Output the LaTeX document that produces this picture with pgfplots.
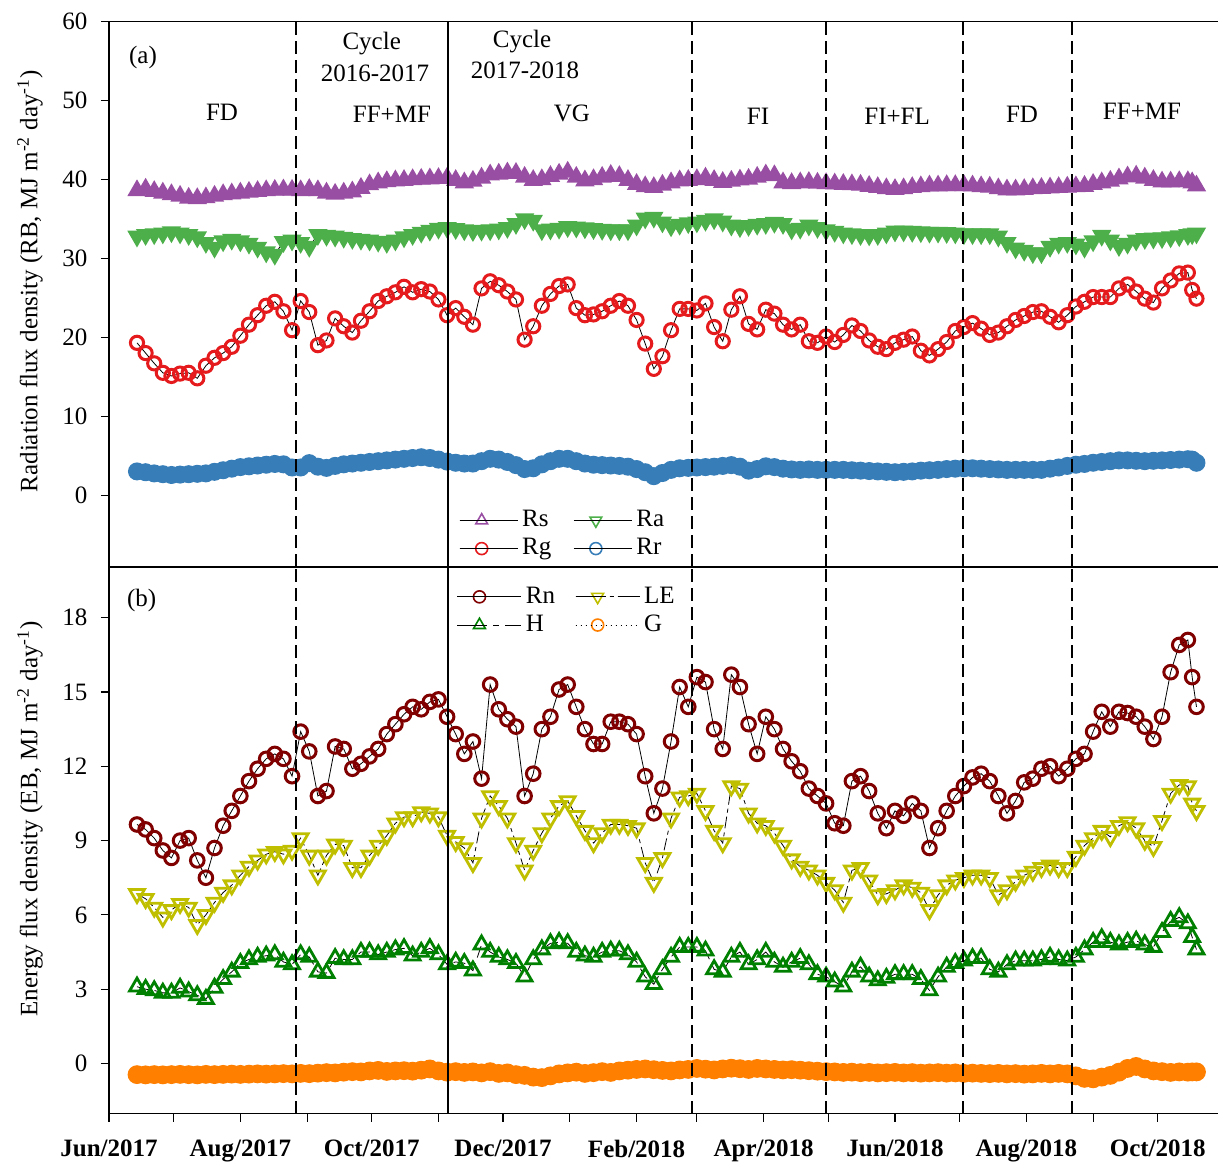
\documentclass[border=0pt]{standalone}
\usepackage{fontspec}
\setmainfont{Liberation Serif}
\usepackage{pgfplots}
\usepackage{pgfplotstable}
\pgfplotsset{compat=1.18}
\definecolor{cRs}{RGB}{152,78,163}
\definecolor{cRa}{RGB}{77,175,74}
\definecolor{cRg}{RGB}{228,26,28}
\definecolor{cRr}{RGB}{55,126,184}
\definecolor{cRn}{RGB}{128,0,0}
\definecolor{cLE}{RGB}{191,191,0}
\definecolor{cH}{RGB}{0,128,0}
\definecolor{cG}{RGB}{255,127,0}
\tikzset{vline/.style={line width=0.8pt, dash pattern=on 6.5pt off 3pt}}
\pgfplotstableread{
d Rs Ra Rg Rr Rn LE H G
13 38.6 32.8 19.3 3.0 9.65 6.85 3.1 -0.45
17 38.8 33.0 18.0 2.9 9.45 6.65 3.0 -0.46
21 38.5 33.1 16.7 2.75 9.1 6.3 2.95 -0.45
25 38.3 33.2 15.5 2.65 8.6 5.9 2.85 -0.46
29 38.1 33.35 15.1 2.55 8.3 6.2 2.85 -0.45
33 37.9 33.2 15.4 2.6 9.0 6.45 3.05 -0.44
37 37.65 33.0 15.5 2.65 9.1 6.3 2.9 -0.45
41 37.6 32.7 14.8 2.7 8.2 5.6 2.75 -0.46
45 37.7 32.0 16.4 2.75 7.5 6.0 2.6 -0.44
49 37.9 31.4 17.4 2.95 8.7 6.5 3.05 -0.45
53 38.1 32.2 18.0 3.15 9.6 6.9 3.4 -0.44
57 38.2 32.4 18.8 3.35 10.2 7.2 3.7 -0.43
61 38.3 32.2 20.2 3.55 10.8 7.6 4.05 -0.44
65 38.4 31.9 21.6 3.65 11.4 7.95 4.2 -0.43
69 38.5 31.4 22.8 3.75 11.9 8.2 4.3 -0.42
73 38.6 30.8 24.0 3.85 12.3 8.45 4.35 -0.43
77 38.65 30.5 24.5 3.95 12.5 8.55 4.4 -0.42
81 38.7 32.1 23.3 3.9 12.3 8.45 4.1 -0.41
85 38.65 32.3 20.9 3.5 11.6 8.6 4.0 -0.42
89 38.6 32.0 24.6 3.5 13.4 9.1 4.4 -0.40
93 38.75 31.5 23.2 4.05 12.6 8.4 4.3 -0.41
97 38.6 33.0 19.0 3.6 10.8 7.6 3.7 -0.39
101 38.3 32.9 19.6 3.45 11.0 8.4 3.65 -0.37
105 38.15 32.8 22.4 3.7 12.8 8.85 4.25 -0.38
109 38.3 32.65 21.4 3.9 12.7 8.8 4.2 -0.35
113 38.45 32.5 20.6 4.0 11.9 7.9 4.2 -0.33
117 38.9 32.4 22.1 4.1 12.1 7.9 4.5 -0.34
121 39.35 32.3 23.3 4.2 12.4 8.4 4.5 -0.30
125 39.6 32.15 24.6 4.3 12.7 8.8 4.4 -0.28
129 39.75 32.0 25.2 4.4 13.3 9.2 4.5 -0.32
133 39.85 32.3 25.7 4.5 13.7 9.7 4.6 -0.30
137 39.9 32.7 26.4 4.6 14.1 9.95 4.65 -0.29
141 40.0 33.0 25.7 4.7 14.4 9.95 4.35 -0.31
145 40.05 33.3 26.1 4.8 14.3 10.15 4.5 -0.27
149 40.1 33.55 25.8 4.7 14.6 10.1 4.65 -0.22
153 40.15 33.8 24.8 4.5 14.7 9.95 4.4 -0.30
157 40.2 33.9 22.8 4.25 14.0 9.2 4.0 -0.35
161 39.9 33.75 23.7 4.1 13.3 8.95 4.1 -0.33
165 39.6 33.6 22.6 4.0 12.5 8.7 4.05 -0.36
169 39.8 33.5 21.6 4.0 13.0 8.1 3.75 -0.34
173 40.2 33.55 26.2 4.3 11.5 9.9 4.8 -0.38
177 40.6 33.6 27.1 4.6 15.3 10.8 4.5 -0.33
181 40.7 33.7 26.6 4.5 14.3 10.4 4.3 -0.40
185 40.85 33.9 25.8 4.2 13.9 9.9 4.2 -0.38
189 40.8 34.4 24.8 3.8 13.6 8.9 4.05 -0.45
193 40.3 35.0 19.7 3.3 10.8 7.8 3.5 -0.48
197 39.9 34.8 21.4 3.4 11.7 8.6 4.2 -0.55
201 40.0 33.6 24.0 3.9 13.5 9.3 4.6 -0.57
205 40.4 33.7 25.5 4.3 14.0 9.9 4.85 -0.50
209 40.7 33.8 26.5 4.6 15.1 10.4 4.9 -0.42
213 40.95 34.0 26.7 4.6 15.3 10.6 4.85 -0.38
217 40.3 33.95 23.7 4.3 14.4 10.0 4.5 -0.35
221 39.85 33.85 22.8 4.0 13.5 9.4 4.35 -0.40
225 40.0 33.75 22.9 3.85 12.9 8.9 4.3 -0.37
229 40.3 33.65 23.3 3.8 12.9 9.3 4.5 -0.33
233 40.55 33.6 24.0 3.75 13.8 9.65 4.55 -0.36
237 40.4 33.6 24.6 3.7 13.8 9.65 4.55 -0.30
241 39.9 33.6 24.0 3.6 13.7 9.6 4.4 -0.27
245 39.4 34.2 22.2 3.3 13.3 9.5 4.1 -0.24
249 39.1 35.1 19.2 2.9 11.6 8.1 3.5 -0.22
253 39.0 35.2 16.0 2.4 10.1 7.3 3.2 -0.25
257 39.3 34.6 17.6 2.8 11.1 8.3 3.8 -0.28
261 39.6 34.1 20.9 3.2 13.0 9.9 4.3 -0.30
265 39.85 34.3 23.6 3.4 15.2 10.75 4.7 -0.26
269 39.9 34.5 23.6 3.45 14.4 10.8 4.7 -0.24
273 40.0 34.6 23.4 3.5 15.6 10.9 4.7 -0.20
277 40.2 34.8 24.3 3.55 15.4 10.2 4.55 -0.23
281 39.9 35.0 21.3 3.6 13.5 9.4 3.8 -0.26
285 39.65 34.7 19.5 3.7 12.7 8.9 3.7 -0.22
289 39.8 34.2 23.5 3.8 15.7 11.2 4.3 -0.19
293 39.95 34.0 25.2 3.6 15.2 11.1 4.5 -0.21
297 40.05 34.15 21.7 3.1 13.7 10.1 4.0 -0.24
301 40.3 34.3 21.0 3.3 12.5 9.7 4.2 -0.20
305 40.6 34.4 23.5 3.65 14.0 9.6 4.5 -0.22
309 40.5 34.55 23.0 3.55 13.5 9.3 4.1 -0.24
313 39.6 34.4 21.6 3.35 12.7 8.8 3.9 -0.26
317 39.5 33.7 21.0 3.25 12.2 8.25 4.1 -0.25
321 39.6 33.8 21.6 3.2 11.8 7.95 4.25 -0.27
325 39.65 34.2 19.5 3.25 11.1 7.8 4.0 -0.29
329 39.55 33.9 19.3 3.2 10.8 7.6 3.6 -0.31
333 39.5 33.6 20.1 3.2 10.5 7.3 3.5 -0.33
337 39.45 33.4 19.4 3.2 9.7 7.0 3.3 -0.34
341 39.4 33.2 20.3 3.2 9.6 6.5 3.1 -0.36
345 39.35 33.1 21.5 3.15 11.4 7.8 3.7 -0.35
349 39.3 33.0 20.8 3.1 11.6 7.9 3.9 -0.37
353 39.15 32.95 19.6 3.05 11.0 7.4 3.5 -0.36
357 39.0 33.0 18.8 3.0 10.1 6.8 3.35 -0.38
361 38.85 33.2 18.5 2.95 9.5 6.85 3.45 -0.37
365 38.75 33.45 19.3 2.9 10.2 7.0 3.6 -0.36
369 38.85 33.45 19.7 2.95 10.0 7.2 3.6 -0.38
373 39.0 33.4 20.1 3.0 10.5 7.1 3.6 -0.37
377 39.1 33.35 18.3 3.1 10.2 6.9 3.4 -0.39
381 39.2 33.3 17.7 3.15 8.7 6.2 2.95 -0.38
385 39.2 33.3 18.5 3.2 9.5 6.8 3.5 -0.37
389 39.25 33.25 19.4 3.3 10.2 7.2 3.9 -0.39
393 39.25 33.2 20.8 3.35 10.8 7.4 4.05 -0.38
397 39.25 33.1 21.3 3.4 11.2 7.5 4.15 -0.40
401 39.2 33.1 21.8 3.4 11.55 7.6 4.25 -0.39
405 39.1 33.1 21.1 3.35 11.7 7.6 4.25 -0.40
409 39.05 33.1 20.3 3.3 11.4 7.5 3.8 -0.41
413 38.85 32.8 20.6 3.25 10.8 6.8 3.7 -0.40
417 38.7 32.0 21.4 3.2 10.1 7.0 4.0 -0.42
421 38.7 31.3 22.2 3.2 10.6 7.35 4.15 -0.41
425 38.75 31.0 22.7 3.2 11.35 7.6 4.15 -0.43
429 38.85 30.7 23.2 3.2 11.5 7.75 4.15 -0.42
433 38.9 30.7 23.3 3.2 11.9 7.9 4.2 -0.40
437 38.95 31.5 22.6 3.35 12.0 8.0 4.3 -0.42
441 39.0 31.9 21.9 3.5 11.6 7.9 4.2 -0.40
445 39.05 32.0 22.8 3.7 11.9 7.9 4.15 -0.42
449 39.1 31.8 23.9 3.85 12.3 8.35 4.3 -0.50
453 39.15 31.4 24.5 3.95 12.5 8.8 4.6 -0.60
457 39.4 32.2 25.1 4.1 13.4 9.1 4.9 -0.62
461 39.6 32.9 25.1 4.2 14.2 9.4 5.05 -0.55
465 39.8 32.3 25.1 4.3 13.6 9.15 4.9 -0.48
469 40.1 31.6 26.2 4.4 14.2 9.6 4.8 -0.35
473 40.35 31.9 26.7 4.4 14.15 9.75 4.9 -0.20
477 40.45 32.3 25.8 4.35 14.0 9.5 4.95 -0.12
481 40.2 32.5 24.9 4.3 13.6 9.0 4.8 -0.22
485 39.9 32.55 24.4 4.35 13.1 8.75 4.7 -0.30
489 39.7 32.6 26.2 4.4 14.0 9.8 5.3 -0.33
493 39.7 32.7 27.2 4.45 15.8 10.9 5.75 -0.36
497 39.75 32.85 28.1 4.5 16.9 11.25 5.9 -0.34
501 39.75 33.0 28.2 4.55 17.1 11.2 5.65 -0.35
503 39.6 33.1 26.0 4.5 15.6 10.5 5.1 -0.34
505 39.2 33.2 24.9 4.1 14.4 10.2 4.6 -0.34
}\datatab
\begin{document}
\fontsize{12.5}{15}\selectfont
\begin{tikzpicture}
\pgfplotsset{
  common/.style={
    scale only axis, width=554.5pt, xmin=0, xmax=515,
    axis line style={draw=none},
    clip mode=individual,
    tick align=outside, ytick pos=left, xtick pos=bottom,
    major tick length=4pt,
    tick style={black, line width=0.6pt},
    /pgf/number format/assume math mode=true,
    tick label style={font=\fontsize{12.5}{15}\selectfont},
    yticklabel style={xshift=-2.5pt},
    legend cell align=left,
    legend columns=2,
  },
}
% ---------- panel (a) ----------
\begin{axis}[common, name=top, height=272.6pt, ymin=-9.1, ymax=60,
  ytick={0,10,...,60}, xtick=\empty,
  ylabel={Radiation flux density (RB, MJ m\textsuperscript{-2} day\textsuperscript{-1})},
  ylabel style={at={(axis description cs:-0.0712,0.524)}, anchor=center},
  legend image code/.code={\draw[mark repeat=2,mark phase=2,#1] plot coordinates {(0pt,0pt)(11pt,0pt)(22pt,0pt)}; \path (0pt,0pt) -- (29pt,0pt);},
  legend style={at={(0.31,0.119)}, anchor=north west, draw=none, fill=none,
    font=\fontsize{12.5}{15}\selectfont,
    /tikz/every even column/.append style={column sep=9pt}},
]
\addplot[forget plot, black, line width=0.4pt, mark=triangle*,
  mark options={solid, mark size=4.8pt, draw=cRs, fill=cRs, line width=0.8pt}] table[x=d,y=Rs]{\datatab};
\addplot[forget plot, black, line width=0.4pt, mark=triangle*,
  mark options={solid, mark size=4.8pt, draw=cRa, fill=cRa, line width=0.8pt, rotate=180}] table[x=d,y=Ra]{\datatab};
\addplot[forget plot, black, line width=0.4pt, mark=o,
  mark options={solid, mark size=3.3pt, draw=cRg, line width=1.5pt}] table[x=d,y=Rg]{\datatab};
\addplot[forget plot, black, line width=0.4pt, mark=*,
  mark options={solid, mark size=4.2pt, draw=cRr, fill=cRr, line width=0.6pt}] table[x=d,y=Rr]{\datatab};
\addlegendimage{black, line width=0.5pt, mark=triangle, mark options={solid, mark size=3.4pt, draw=cRs, line width=0.8pt}}
\addlegendentry{Rs}
\addlegendimage{black, line width=0.5pt, mark=triangle, mark options={solid, mark size=3.4pt, draw=cRa, line width=0.8pt, rotate=180}}
\addlegendentry{Ra}
\addlegendimage{black, line width=0.5pt, mark=o, mark options={solid, mark size=3pt, draw=cRg, line width=0.8pt}}
\addlegendentry{Rg}
\addlegendimage{black, line width=0.5pt, mark=o, mark options={solid, mark size=3pt, draw=cRr, line width=0.8pt}}
\addlegendentry{Rr}
\draw[vline] (axis cs:86.7,-9.1) -- (axis cs:86.7,60);
\draw[line width=0.8pt] (axis cs:157.4,-9.1) -- (axis cs:157.4,60);
\draw[vline] (axis cs:270.8,-9.1) -- (axis cs:270.8,60);
\draw[vline] (axis cs:332.9,-9.1) -- (axis cs:332.9,60);
\draw[vline] (axis cs:396.7,-9.1) -- (axis cs:396.7,60);
\draw[vline] (axis cs:447.2,-9.1) -- (axis cs:447.2,60);
\draw[line width=0.7pt] (rel axis cs:1,1) -- (rel axis cs:0,1) -- (rel axis cs:0,0) -- (rel axis cs:1,0);
\node at (axis cs:15.8,55.5) {(a)};
\node at (axis cs:52.5,48.5) {FD};
\node at (axis cs:122,57.2) {Cycle};
\node at (axis cs:123.5,53.5) {2016-2017};
\node at (axis cs:131.4,48.2) {FF+MF};
\node at (axis cs:191.8,57.5) {Cycle};
\node at (axis cs:193.2,53.9) {2017-2018};
\node at (axis cs:215,48.4) {VG};
\node at (axis cs:301.4,48.0) {FI};
\node at (axis cs:366,48.0) {FI+FL};
\node at (axis cs:424,48.3) {FD};
\node at (axis cs:479.7,48.7) {FF+MF};
\end{axis}
% ---------- panel (b) ----------
\begin{axis}[common, name=bot, at={(top.south west)}, anchor=north west,
  height=273.3pt, ymin=-2.02, ymax=20.05,
  ytick={0,3,...,18},
  xtick={0,30,61,92,122,153,183,214,245,273,304,334,365,395,426,457,487},
  xticklabels={Jun/2017,,Aug/2017,,Oct/2017,,Dec/2017,,Feb/2018,,Apr/2018,,Jun/2018,,Aug/2018,,Oct/2018},
  xticklabel style={font=\bfseries\fontsize{12.5}{15}\selectfont, yshift=-5pt},
  ylabel={Energy flux density (EB, MJ m\textsuperscript{-2} day\textsuperscript{-1})},
  ylabel style={at={(axis description cs:-0.0712,0.539)}, anchor=center},
  legend image code/.code={\draw[mark repeat=2,mark phase=2,#1] plot coordinates {(0pt,0pt)(11pt,0pt)(22pt,0pt)}; \path (0pt,0pt) -- (32pt,0pt);},
  legend style={at={(0.308,0.979)}, anchor=north west, draw=none, fill=none,
    font=\fontsize{12.5}{15}\selectfont,
    /tikz/every even column/.append style={column sep=8pt}},
]
\addplot[forget plot, black, line width=0.4pt, mark=*,
  mark options={solid, mark size=4.4pt, draw=cG, fill=cG, line width=0.6pt}] table[x=d,y=G]{\datatab};
\addplot[forget plot, black, line width=0.4pt, dash pattern=on 6pt off 3pt, mark=triangle,
  mark options={solid, mark size=4.3pt, draw=cH, line width=1.4pt}] table[x=d,y=H]{\datatab};
\addplot[forget plot, black, line width=0.4pt, dash pattern=on 6pt off 2pt on 2pt off 2pt, mark=triangle,
  mark options={solid, mark size=4.3pt, draw=cLE, line width=1.4pt, rotate=180}] table[x=d,y=LE]{\datatab};
\addplot[forget plot, black, line width=0.4pt, mark=o,
  mark options={solid, mark size=3.4pt, draw=cRn, line width=1.5pt}] table[x=d,y=Rn]{\datatab};
\addlegendimage{black, line width=0.5pt, mark=o, mark options={solid, mark size=3pt, draw=cRn, line width=0.8pt}}
\addlegendentry{Rn}
\addlegendimage{black, line width=0.5pt, dash pattern=on 15pt off 2pt on 2pt off 2pt, mark=triangle, mark options={solid, mark size=3.4pt, draw=cLE, line width=0.8pt, rotate=180}}
\addlegendentry{LE}
\addlegendimage{black, line width=0.5pt, dash pattern=on 15pt off 3pt on 3pt off 3pt, mark=triangle, mark options={solid, mark size=3.4pt, draw=cH, line width=0.8pt}}
\addlegendentry{H}
\addlegendimage{black, line width=0.5pt, dotted, mark=o, mark options={solid, mark size=3pt, draw=cG, line width=0.8pt}}
\addlegendentry{G}
\draw[vline] (axis cs:86.7,-2.02) -- (axis cs:86.7,20.05);
\draw[line width=0.8pt] (axis cs:157.4,-2.02) -- (axis cs:157.4,20.05);
\draw[vline] (axis cs:270.8,-2.02) -- (axis cs:270.8,20.05);
\draw[vline] (axis cs:332.9,-2.02) -- (axis cs:332.9,20.05);
\draw[vline] (axis cs:396.7,-2.02) -- (axis cs:396.7,20.05);
\draw[vline] (axis cs:447.2,-2.02) -- (axis cs:447.2,20.05);
\draw[line width=0.7pt] (rel axis cs:1,1) -- (rel axis cs:0,1) -- (rel axis cs:0,0) -- (rel axis cs:1,0);
\node at (axis cs:15.2,18.68) {(b)};
\end{axis}
\pgfresetboundingbox
\path[use as bounding box] ([xshift=-54.5pt,yshift=10.85pt]top.north west) rectangle ([xshift=554.5pt,yshift=-569.65pt]top.north west);
\end{tikzpicture}
\end{document}
